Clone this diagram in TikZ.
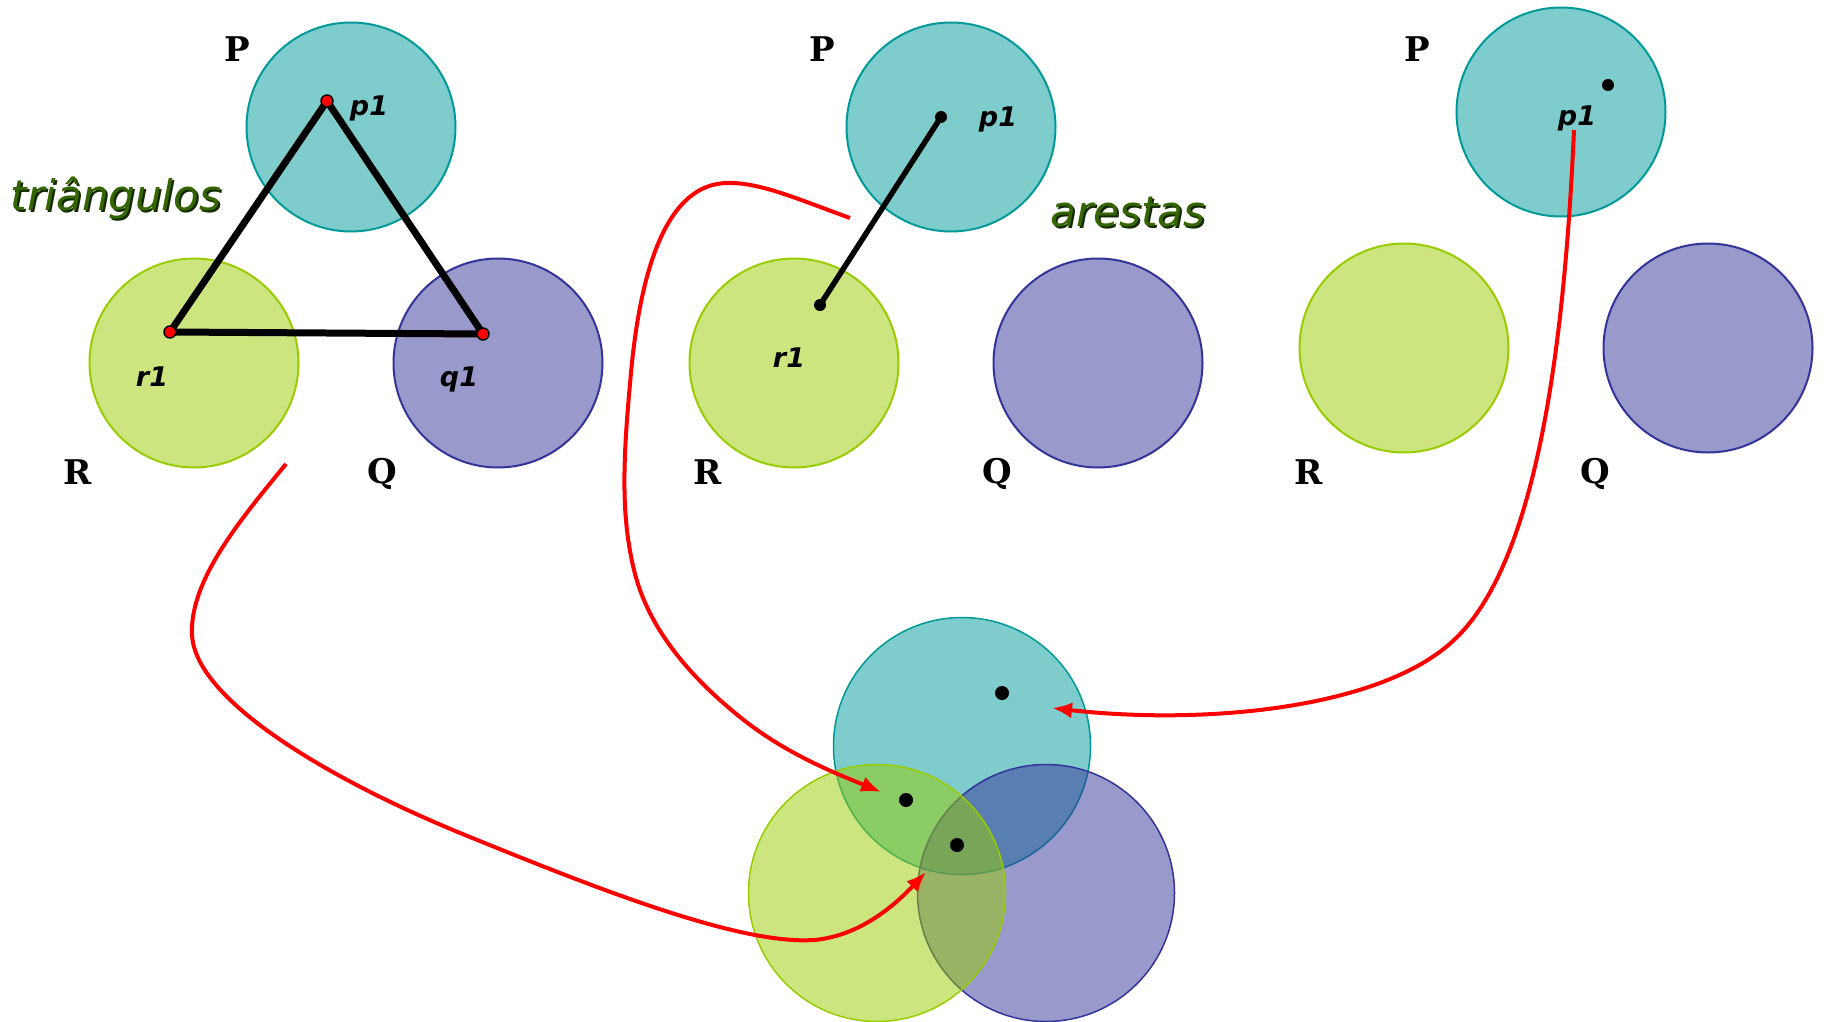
\documentclass[tikz,border=0pt]{standalone}
\usepackage{fontspec}
\setmainfont{DejaVu Sans}
\newfontfamily\serfont{DejaVu Serif}
\usetikzlibrary{arrows.meta}
\definecolor{tealc}{RGB}{0,153,153}
\definecolor{greenc}{RGB}{153,204,0}
\definecolor{purpc}{RGB}{51,51,153}
\definecolor{wordc}{RGB}{51,102,0}
\definecolor{shadc}{RGB}{20,40,0}
\begin{document}
\begin{tikzpicture}[x=1pt,y=-1pt,
  setc/.style={circle, minimum size=209pt, inner sep=0pt, line width=2pt, draw=#1, fill=#1, fill opacity=0.5},
  venn/.style={circle, minimum size=257pt, inner sep=0pt, line width=1.5pt, draw=#1, fill=#1, fill opacity=0.5},
  setlbl/.style={font=\serfont\bfseries\fontsize{34}{40}\selectfont, inner sep=0pt},
  ptlbl/.style={font=\bfseries\itshape\fontsize{27}{32}\selectfont, inner sep=0pt},
  wordsh/.style={font=\itshape\fontsize{42}{48}\selectfont, text=shadc, inner sep=0pt},
  word/.style={font=\itshape\fontsize{42}{48}\selectfont, text=wordc, inner sep=0pt},
  rdot/.style={circle, minimum size=12pt, inner sep=0pt, fill=red, draw=black, line width=1.4pt},
  bdot/.style={circle, minimum size=12pt, inner sep=0pt, fill=black},
  vdot/.style={circle, minimum size=14pt, inner sep=0pt, fill=black},
  redarrow/.style={draw=red, line width=4pt, -{Latex[length=20pt,width=16pt]}}]
\useasboundingbox (0,0) rectangle (1824,1022);

% ---------- panel 1 : triangulos ----------
\node[setc=tealc] (P1) at (351,127) {};
\node[setc=greenc] (R1) at (194,363) {};
\node[setc=purpc] (Q1) at (498,363) {};
\coordinate (pp1) at (327,101);
\coordinate (rr1) at (170,332);
\coordinate (qq1) at (483,334);
\draw[line width=7pt, line join=round] (pp1) -- (rr1) -- (qq1) -- cycle;
\node[rdot] (p1dot) at (pp1) {};
\node[rdot] (r1dot) at (rr1) {};
\node[rdot] (q1dot) at (qq1) {};
\node[ptlbl] (p1l) at (369,108) {p1};
\node[ptlbl] (r1l) at (152,377) {r1};
\node[ptlbl] (q1l) at (459,379) {q1};
\node[setlbl] (P1l) at (237,49) {P};
\node[setlbl] (R1l) at (78,472) {R};
\node[setlbl] (Q1l) at (382,474) {Q};
\node[wordsh] (trish) at (118,200) {triângulos};
\node[word] (tri) at (116,198) {triângulos};

% ---------- panel 2 : arestas ----------
\node[setc=tealc] (P2) at (951,127) {};
\node[setc=greenc] (R2) at (794,363) {};
\node[setc=purpc] (Q2) at (1098,363) {};
\coordinate (pp2) at (941,117);
\coordinate (rr2) at (820,305);
\draw[line width=5.5pt] (pp2) -- (rr2);
\node[bdot] (p2dot) at (pp2) {};
\node[bdot] (r2dot) at (rr2) {};
\node[ptlbl] (p2l) at (998,119) {p1};
\node[ptlbl] (r2l) at (789,358) {r1};
\node[setlbl] (P2l) at (822,49) {P};
\node[setlbl] (R2l) at (708,472) {R};
\node[setlbl] (Q2l) at (997,474) {Q};
\node[wordsh] (aresh) at (1130,214) {arestas};
\node[word] (are) at (1128,212) {arestas};

% ---------- panel 3 : vertices ----------
\node[setc=tealc] (P3) at (1561,112) {};
\node[setc=greenc] (R3) at (1404,348) {};
\node[setc=purpc] (Q3) at (1708,348) {};
\node[bdot] (p3dot) at (1608,85) {};
\node[ptlbl] (p3l) at (1577,118) {p1};
\node[setlbl] (P3l) at (1417,49) {P};
\node[setlbl] (R3l) at (1309,472) {R};
\node[setlbl] (Q3l) at (1595,474) {Q};

% ---------- Venn ----------
\node[venn=tealc] (VP) at (962,746) {};
\node[venn=purpc] (VQ) at (1046,893) {};
\node[venn=greenc] (VR) at (877,893) {};
\node[vdot] (vd1) at (1002,693) {};
\node[vdot] (vd2) at (906,800) {};
\node[vdot] (vd3) at (957,845) {};

% ---------- red connectors ----------
\coordinate (s1) at (286,464);
\coordinate (e1) at (926,872);
\coordinate (s2) at (850,218);
\coordinate (e2) at (881,792);
\coordinate (s3) at (1574,130);
\coordinate (e3) at (1052,708);
\draw[redarrow] (s1) .. controls (240,520) and (190,580) .. (192,634)
  .. controls (194,700) and (330,780) .. (465,835)
  .. controls (600,890) and (740,945) .. (814,940)
  .. controls (860,936) and (895,905) .. (e1);
\draw[redarrow] (s2) .. controls (800,200) and (760,182) .. (727,183)
  .. controls (670,184) and (640,260) .. (630,384)
  .. controls (622,470) and (622,520) .. (634,570)
  .. controls (646,620) and (680,670) .. (745,721)
  .. controls (790,756) and (840,775) .. (e2);
\draw[redarrow] (s3) .. controls (1565,330) and (1540,560) .. (1454,640)
  .. controls (1380,710) and (1200,725) .. (e3);
\end{tikzpicture}
\end{document}
